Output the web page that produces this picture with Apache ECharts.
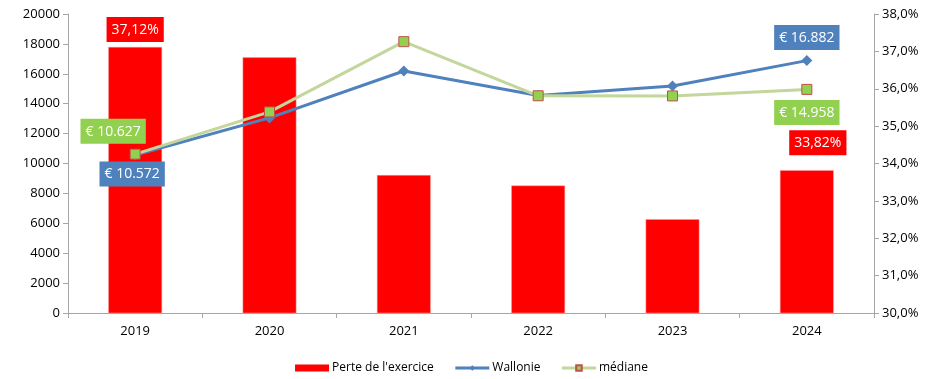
<!DOCTYPE html>
<html>
<head>
<meta charset="utf-8">
<script src="https://cdn.jsdelivr.net/npm/echarts@6/dist/echarts.min.js"></script>
<style>html,body{margin:0;padding:0;background:#fff}#c{width:943px;height:379px}</style>
</head>
<body>
<div id="c"></div>
<script>
const categories = ['2019', '2020', '2021', '2022', '2023', '2024'];
const perte = [37.12, 36.84, 33.69, 33.41, 32.51, 33.82];
const wallonie = [10572, 13050, 16190, 14550, 15180, 16882];
const mediane = [10627, 13450, 18150, 14530, 14520, 14958];
const leftTicks = [0, 20000, 2000];
const rightTicks = [30, 38, 1];

const FONT = 'Open Sans';
function eur(v) { return '€ ' + String(v).replace(/\B(?=(\d{3})+(?!\d))/g, '.'); }
function pct(v) { return v.toFixed(2).replace('.', ',') + '%'; }
function lbl(bg, pos, offset) {
  return { show: true, position: pos, offset: offset, backgroundColor: bg, color: '#fff',
    fontFamily: FONT, fontSize: 14, lineHeight: 18, padding: [4, 5, 3, 5] };
}

const perteData = perte.map((v, i) => {
  const d = { value: v };
  if (i === 0) d.label = Object.assign(lbl('#FF0000', 'top', [0, 0]), { formatter: p => pct(p.value) });
  if (i === 5) d.label = Object.assign(lbl('#FF0000', 'top', [11, -10]), { formatter: p => pct(p.value) });
  return d;
});
const walData = wallonie.map((v, i) => {
  const d = { value: v };
  if (i === 0) d.label = Object.assign(lbl('#4F81BD', 'bottom', [-3, -4]), { formatter: p => eur(p.value) });
  if (i === 5) d.label = Object.assign(lbl('#4F81BD', 'top', [0, 0]), { formatter: p => eur(p.value) });
  return d;
});
const medData = mediane.map((v, i) => {
  const d = { value: v };
  if (i === 0) d.label = Object.assign(lbl('#92D050', 'top', [-22, 0]), { formatter: p => eur(p.value) });
  if (i === 5) d.label = Object.assign(lbl('#92D050', 'bottom', [0, 0]), { formatter: p => eur(p.value) });
  return d;
});

const axisLine = { show: true, lineStyle: { color: '#A6A6A6', width: 1 } };
const chart = echarts.init(document.getElementById('c'), null, { renderer: 'canvas' });
chart.setOption({
  animation: false,
  textStyle: { fontFamily: FONT },
  grid: { left: 68, right: 69, top: 14, bottom: 66 },
  legend: {
    bottom: 0, left: 'center',
    itemGap: 20,
    textStyle: { fontFamily: FONT, fontSize: 12, color: '#000', padding: [0, 0, 0, -2] },
    data: [
      { name: "Perte de l'exercice", icon: 'rect', itemStyle: { color: '#FF0000', borderWidth: 0 } },
      { name: 'Wallonie', lineStyle: { width: 3 } },
      { name: 'médiane', lineStyle: { width: 3 } }
    ],
    itemWidth: 34, itemHeight: 7
  },
  xAxis: {
    type: 'category', data: categories, boundaryGap: true,
    axisLine: axisLine,
    axisTick: { show: true, alignWithLabel: false, length: 5, lineStyle: { color: '#A6A6A6' } },
    axisLabel: { color: '#000', fontSize: 13, fontFamily: FONT, margin: 12 }
  },
  yAxis: [
    {
      type: 'value', min: leftTicks[0], max: leftTicks[1], interval: leftTicks[2],
      axisLine: axisLine,
      axisTick: { show: true, length: 5, lineStyle: { color: '#A6A6A6' } },
      splitLine: { show: false },
      axisLabel: { color: '#000', fontSize: 13, fontFamily: FONT, margin: 8, formatter: v => String(v) }
    },
    {
      type: 'value', min: rightTicks[0], max: rightTicks[1], interval: rightTicks[2],
      position: 'right',
      axisLine: axisLine,
      axisTick: { show: true, length: 5, lineStyle: { color: '#A6A6A6' } },
      splitLine: { show: false },
      axisLabel: { color: '#000', fontSize: 13, fontFamily: FONT, margin: 8,
        formatter: v => v.toFixed(1).replace('.', ',') + '%' }
    }
  ],
  series: [
    {
      name: "Perte de l'exercice", type: 'bar', yAxisIndex: 1, data: perteData,
      barWidth: '40%',
      itemStyle: { color: '#FF0000', borderColor: '#FF9999', borderWidth: 0.5 },
      z: 1
    },
    {
      name: 'Wallonie', type: 'line', yAxisIndex: 0, data: walData,
      symbol: 'diamond', symbolSize: 11,
      lineStyle: { color: '#4F81BD', width: 3 },
      itemStyle: { color: '#4F81BD' },
      z: 3
    },
    {
      name: 'médiane', type: 'line', yAxisIndex: 0, data: medData,
      symbol: 'rect', symbolSize: 10,
      lineStyle: { color: '#C3D69B', width: 3 },
      itemStyle: { color: '#92D050', borderColor: '#C0504D', borderWidth: 1 },
      z: 4
    }
  ]
});
</script>
</body>
</html>
